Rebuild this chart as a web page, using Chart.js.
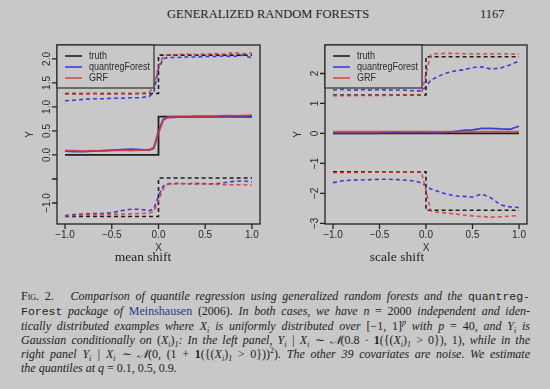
<!DOCTYPE html>
<html>
<head>
<meta charset="utf-8">
<script src="https://cdn.jsdelivr.net/npm/chart.js@4.4.1/dist/chart.umd.min.js"></script>
<style>
  body { margin: 0; width: 550px; height: 389px; overflow: hidden; position: relative;
         background: #c8c8c8; color: #222; font-family: "Liberation Serif", serif; }
  canvas { position: absolute; }
  .head { position: absolute; top: 7px; font-size: 12.5px; }
  .sub { position: absolute; top: 249px; font-size: 13.5px; width: 120px; text-align: center; }
  #cap { position: absolute; left: 21px; top: 289px; width: 509px; font-size: 12px; line-height: 14px; font-style: italic; }
  #cap div { text-align: justify; text-align-last: justify; white-space: nowrap; }
  #cap div.last { text-align-last: left; }
  .up { font-style: normal; }
  .sc { font-style: normal; font-variant: small-caps; }
  .tt { font-family: "Liberation Mono", monospace; font-style: normal; font-size: 11.5px; }
  .lk { font-style: normal; color: #2a3a8c; }
  sub, sup { font-size: 8px; line-height: 0; }
</style>
</head>
<body>
<div class="head" style="left:167px;">GENERALIZED RANDOM FORESTS</div>
<div class="head" style="left:480px;">1167</div>

<canvas id="meanChart" width="275" height="235" style="left:0;top:30px;width:275px;height:235px;"></canvas>
<canvas id="scaleChart" width="275" height="235" style="left:275px;top:30px;width:275px;height:235px;"></canvas>

<div class="sub" style="left:83px;">mean shift</div>
<div class="sub" style="left:337px;">scale shift</div>

<div id="cap">
  <div><span class="sc">Fig. 2.</span>&nbsp;&nbsp; Comparison of quantile regression using generalized random forests and the <span class="tt">quantreg-</span></div>
  <div><span class="tt">Forest</span> package of <span class="lk">Meinshausen</span> <span class="up">(2006)</span>. In both cases, we have n <span class="up">= 2000</span> independent and iden-</div>
  <div>tically distributed examples where X<sub>i</sub> is uniformly distributed over <span class="up">[−1, 1]</span><sup>p</sup> with p <span class="up">= 40</span>, and Y<sub>i</sub> is</div>
  <div>Gaussian conditionally on <span class="up">(</span>X<sub>i</sub><span class="up">)</span><sub>1</sub>: In the left panel, Y<sub>i</sub> | X<sub>i</sub> ∼ 𝒩<span class="up">(0.8 · <b>1</b>({(</span>X<sub>i</sub><span class="up">)</span><sub>1</sub> <span class="up">&gt; 0}), 1)</span>, while in the</div>
  <div>right panel Y<sub>i</sub> | X<sub>i</sub> ∼ 𝒩<span class="up">(0, (1 + <b>1</b>({(</span>X<sub>i</sub><span class="up">)</span><sub>1</sub> <span class="up">&gt; 0}))<sup>2</sup>)</span>. The other 39 covariates are noise. We estimate</div>
  <div class="last">the quantiles at q <span class="up">= 0.1, 0.5, 0.9</span>.</div>
</div>

<script>
// x positions of the estimated curves
const xGrid = [-1, -0.9, -0.8, -0.7, -0.6, -0.5, -0.4, -0.3, -0.2, -0.1, -0.05, 0, 0.05, 0.1, 0.2, 0.3, 0.4, 0.5, 0.6, 0.7, 0.8, 0.9, 1];
// true quantiles are step functions
const truthX = [-1, 0, 0, 1];

// mean shift panel
const meanTruthHi = [1.28, 1.28, 2.08, 2.08];
const meanTruthMed = [0, 0, 0.8, 0.8];
const meanTruthLo = [-1.28, -1.28, -0.48, -0.48];
const meanQfHi = [1.13, 1.14, 1.16, 1.17, 1.17, 1.18, 1.18, 1.19, 1.19, 1.22, 1.30, 1.80, 2.00, 2.03, 2.03, 2.04, 2.04, 2.05, 2.05, 2.06, 2.05, 2.08, 2.02];
const meanQfMed = [0.08, 0.07, 0.07, 0.08, 0.09, 0.10, 0.11, 0.12, 0.11, 0.10, 0.14, 0.50, 0.74, 0.78, 0.79, 0.79, 0.80, 0.80, 0.80, 0.81, 0.80, 0.80, 0.80];
const meanQfLo = [-1.26, -1.24, -1.23, -1.22, -1.22, -1.20, -1.16, -1.13, -1.13, -1.16, -1.12, -0.85, -0.65, -0.60, -0.59, -0.60, -0.59, -0.60, -0.60, -0.58, -0.55, -0.54, -0.56];
const meanGrfHi = [1.27, 1.27, 1.27, 1.28, 1.27, 1.27, 1.28, 1.27, 1.28, 1.30, 1.42, 1.85, 2.05, 2.08, 2.09, 2.10, 2.09, 2.10, 2.11, 2.10, 2.13, 2.11, 2.12];
const meanGrfMed = [0.09, 0.09, 0.08, 0.09, 0.08, 0.09, 0.10, 0.09, 0.10, 0.11, 0.16, 0.45, 0.72, 0.79, 0.80, 0.80, 0.81, 0.81, 0.81, 0.82, 0.82, 0.82, 0.83];
const meanGrfLo = [-1.27, -1.26, -1.25, -1.25, -1.24, -1.24, -1.23, -1.23, -1.22, -1.21, -1.18, -0.95, -0.70, -0.61, -0.60, -0.60, -0.61, -0.60, -0.61, -0.62, -0.62, -0.62, -0.63];

// scale shift panel
const scaleTruthHi = [1.28, 1.28, 2.56, 2.56];
const scaleTruthMed = [0, 0, 0, 0];
const scaleTruthLo = [-1.28, -1.28, -2.56, -2.56];
const scaleQfHi = [1.45, 1.47, 1.44, 1.46, 1.45, 1.46, 1.45, 1.45, 1.44, 1.42, 1.43, 1.55, 1.78, 1.85, 2.00, 2.08, 2.12, 2.20, 2.22, 2.15, 2.18, 2.28, 2.42];
const scaleQfMed = [0.00, 0.00, 0.00, 0.00, 0.00, 0.01, 0.03, 0.04, 0.02, 0.03, 0.04, 0.03, 0.02, 0.01, 0.03, 0.06, 0.10, 0.12, 0.17, 0.17, 0.15, 0.14, 0.24];
const scaleQfLo = [-1.64, -1.58, -1.56, -1.55, -1.54, -1.53, -1.53, -1.54, -1.56, -1.60, -1.65, -1.75, -1.85, -1.90, -2.00, -2.08, -2.10, -2.12, -2.02, -2.15, -2.38, -2.45, -2.47];
const scaleGrfHi = [1.26, 1.26, 1.26, 1.27, 1.27, 1.27, 1.27, 1.28, 1.28, 1.28, 1.29, 2.00, 2.62, 2.66, 2.67, 2.67, 2.66, 2.66, 2.65, 2.65, 2.66, 2.65, 2.64];
const scaleGrfMed = [0.06, 0.06, 0.06, 0.06, 0.06, 0.06, 0.06, 0.06, 0.06, 0.06, 0.06, 0.06, 0.06, 0.06, 0.06, 0.06, 0.06, 0.06, 0.06, 0.06, 0.06, 0.06, 0.06];
const scaleGrfLo = [-1.31, -1.31, -1.30, -1.30, -1.29, -1.29, -1.29, -1.28, -1.28, -1.28, -1.28, -1.90, -2.58, -2.62, -2.65, -2.68, -2.72, -2.75, -2.77, -2.79, -2.78, -2.76, -2.74];

// axis ticks
const xTicks = [-1, -0.5, 0, 0.5, 1];
const xTickLabels = ['−1.0', '−0.5', '0.0', '0.5', '1.0'];
const meanYTicks = [-1, -0.5, 0, 0.5, 1, 1.5, 2];
const meanYTickLabels = ['−1.0', '', '0.0', '0.5', '1.0', '1.5', '2.0'];
const scaleYTicks = [-3, -2, -1, 0, 1, 2];
const scaleYTickLabels = ['−3', '−2', '−1', '0', '1', '2'];
const legendLabels = ['truth', 'quantregForest', 'GRF'];

const colTruth = '#1e1e1e';
const colQf = 'rgba(45,45,215,0.9)';
const colGrf = 'rgba(215,55,55,0.85)';

const pts = (xs, ys) => xs.map((v, i) => ({ x: v, y: ys[i] }));

// R style box, ticks, rotated y labels and boxed legend
const rAxes = {
  id: 'rAxes',
  afterDraw(chart, args, o) {
    const { ctx, chartArea: a, scales: { x, y } } = chart;
    ctx.save();
    ctx.strokeStyle = '#222';
    ctx.lineWidth = 1.3;
    ctx.strokeRect(a.left, a.top, a.right - a.left, a.bottom - a.top);

    ctx.beginPath();
    o.xTicks.forEach(v => {
      const p = x.getPixelForValue(v);
      ctx.moveTo(p, a.bottom); ctx.lineTo(p, a.bottom + 5);
    });
    o.yTicks.forEach(v => {
      const p = y.getPixelForValue(v);
      ctx.moveTo(a.left, p); ctx.lineTo(a.left - 5, p);
    });
    ctx.stroke();

    ctx.fillStyle = '#2a2a2a';
    ctx.font = '10px "Liberation Sans", Arial, sans-serif';
    ctx.textAlign = 'center';
    ctx.textBaseline = 'middle';
    o.xTicks.forEach((v, i) => ctx.fillText(o.xLabels[i], x.getPixelForValue(v), a.bottom + 11));
    ctx.fillText('X', (a.left + a.right) / 2, a.bottom + 24);
    o.yTicks.forEach((v, i) => {
      ctx.save();
      ctx.translate(a.left - 10, y.getPixelForValue(v));
      ctx.rotate(-Math.PI / 2);
      ctx.fillText(o.yLabels[i], 0, 0);
      ctx.restore();
    });
    ctx.save();
    ctx.translate(a.left - 27, (a.top + a.bottom) / 2);
    ctx.rotate(-Math.PI / 2);
    ctx.fillText('Y', 0, 0);
    ctx.restore();

    // legend
    const lw = 97, lh = 43;
    ctx.fillStyle = '#c8c8c8';
    ctx.fillRect(a.left, a.top, lw, lh);
    ctx.strokeStyle = '#222';
    ctx.lineWidth = 1.1;
    ctx.strokeRect(a.left, a.top, lw, lh);
    const cols = [colTruth, colQf, colGrf];
    ctx.font = '10.5px "Liberation Sans", Arial, sans-serif';
    const sx = Math.min(1, 61 / ctx.measureText('quantregForest').width);
    legendLabels.forEach((t, i) => {
      const ly = a.top + 11 + i * 11;
      ctx.strokeStyle = cols[i];
      ctx.lineWidth = 1.6;
      ctx.beginPath();
      ctx.moveTo(a.left + 8, ly); ctx.lineTo(a.left + 25, ly);
      ctx.stroke();
      ctx.fillStyle = '#2a2a2a';
      ctx.textAlign = 'left';
      ctx.save();
      ctx.translate(a.left + 32, ly);
      ctx.scale(sx, 1);
      ctx.fillText(t, 0, 0);
      ctx.restore();
    });
    ctx.restore();
  }
};

function series(xs, ys, color, dashed, order) {
  return {
    data: pts(xs, ys),
    borderColor: color,
    borderWidth: dashed ? 1.6 : 1.8,
    borderDash: dashed ? [4, 3] : [],
    pointRadius: 0,
    tension: 0,
    fill: false,
    order: order
  };
}

function makeChart(id, sets, yMin, yMax, yTicks, yLabels, pad) {
  new Chart(document.getElementById(id), {
    type: 'line',
    data: {
      datasets: [
        series(truthX, sets.truthHi, colTruth, true, 3),
        series(truthX, sets.truthMed, colTruth, false, 3),
        series(truthX, sets.truthLo, colTruth, true, 3),
        series(xGrid, sets.qfHi, colQf, true, 2),
        series(xGrid, sets.qfMed, colQf, false, 2),
        series(xGrid, sets.qfLo, colQf, true, 2),
        series(xGrid, sets.grfHi, colGrf, true, 1),
        series(xGrid, sets.grfMed, colGrf, false, 1),
        series(xGrid, sets.grfLo, colGrf, true, 1)
      ]
    },
    options: {
      responsive: false,
      animation: false,
      layout: { padding: pad },
      scales: {
        x: { type: 'linear', min: -1.086, max: 1.086, display: false },
        y: { type: 'linear', min: yMin, max: yMax, display: false }
      },
      plugins: {
        legend: { display: false },
        tooltip: { enabled: false },
        rAxes: { xTicks: xTicks, xLabels: xTickLabels, yTicks: yTicks, yLabels: yLabels }
      }
    },
    plugins: [rAxes]
  });
}

makeChart('meanChart', {
  truthHi: meanTruthHi, truthMed: meanTruthMed, truthLo: meanTruthLo,
  qfHi: meanQfHi, qfMed: meanQfMed, qfLo: meanQfLo,
  grfHi: meanGrfHi, grfMed: meanGrfMed, grfLo: meanGrfLo
}, -1.4375, 2.29, meanYTicks, meanYTickLabels, { left: 57, top: 15, right: 15, bottom: 41 });

makeChart('scaleChart', {
  truthHi: scaleTruthHi, truthMed: scaleTruthMed, truthLo: scaleTruthLo,
  qfHi: scaleQfHi, qfMed: scaleQfMed, qfLo: scaleQfLo,
  grfHi: scaleGrfHi, grfMed: scaleGrfMed, grfLo: scaleGrfLo
}, -3.02, 2.95, scaleYTicks, scaleYTickLabels, { left: 50, top: 15, right: 23, bottom: 41 });
</script>
</body>
</html>
